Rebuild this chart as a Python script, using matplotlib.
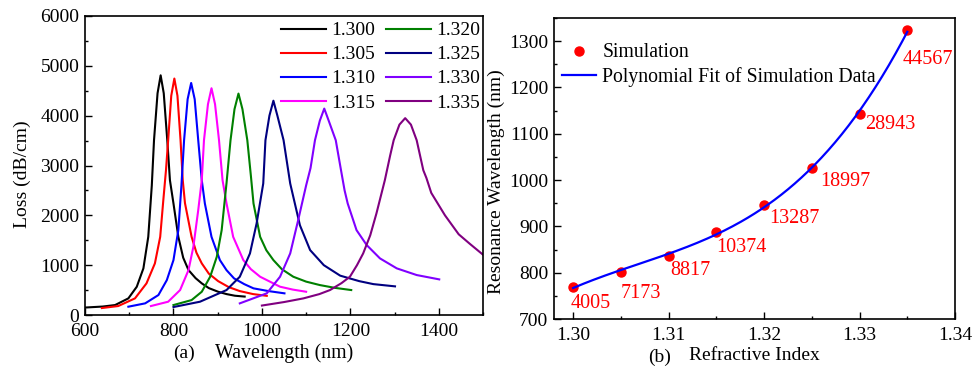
import numpy as np
import matplotlib
matplotlib.use('Agg')
import matplotlib.pyplot as plt
from matplotlib.ticker import MultipleLocator, FormatStrFormatter

plt.rcParams['font.family'] = ['Liberation Serif', 'DejaVu Serif']

# ---- (a) loss spectra, one curve per analyte refractive index ----
ri_labels = ['1.300', '1.305', '1.310', '1.315', '1.320', '1.325', '1.330', '1.335']
ri_colors = ['#000000', '#ff0000', '#0000ff', '#ff00ff', '#008000', '#000080', '#8000ff', '#800080']

wl_1300 = [600, 640, 668, 698, 717, 732, 743, 751, 756, 764, 771, 778, 786, 792, 800, 811, 822, 834, 850, 864, 880, 901, 920, 939, 961]
loss_1300 = [150, 170, 200, 334, 567, 936, 1569, 2600, 3507, 4450, 4810, 4450, 3507, 2705, 2238, 1569, 1150, 902, 740, 635, 540, 467, 420, 387, 370]

wl_1305 = [638, 675, 713, 739, 758, 770, 777, 783, 788, 795, 802, 809, 816, 821, 826, 841, 852, 864, 880, 901, 925, 950, 980, 1011]
loss_1305 = [140, 180, 334, 635, 1036, 1569, 2300, 2900, 3507, 4400, 4745, 4400, 3507, 2705, 2245, 1569, 1250, 1036, 830, 680, 560, 480, 420, 385]

wl_1310 = [698, 736, 766, 785, 800, 811, 818, 824, 832, 840, 848, 856, 864, 871, 886, 905, 920, 937, 960, 981, 1015, 1051]
loss_1310 = [167, 234, 401, 701, 1102, 1703, 2600, 3507, 4330, 4656, 4330, 3507, 2705, 2238, 1569, 1102, 900, 735, 620, 535, 480, 435]

wl_1315 = [749, 788, 815, 834, 845, 856, 864, 869, 878, 886, 894, 903, 911, 920, 935, 958, 975, 996, 1041, 1070, 1100]
loss_1315 = [180, 267, 501, 902, 1369, 2104, 2705, 3507, 4230, 4550, 4230, 3507, 2705, 2238, 1569, 1102, 920, 768, 568, 510, 467]

wl_1320 = [800, 841, 864, 883, 898, 909, 920, 929, 938, 947, 956, 967, 975, 981, 996, 1010, 1026, 1045, 1071, 1100, 1131, 1165, 1202]
loss_1320 = [200, 300, 467, 768, 1169, 1703, 2650, 3507, 4130, 4443, 4130, 3507, 2800, 2238, 1569, 1300, 1102, 920, 768, 670, 601, 545, 501]

wl_1325 = [800, 860, 920, 950, 973, 988, 1003, 1008, 1017, 1026, 1035, 1049, 1064, 1086, 1109, 1140, 1177, 1220, 1252, 1301]
loss_1325 = [160, 267, 501, 768, 1236, 1837, 2638, 3507, 4000, 4300, 4000, 3507, 2638, 1800, 1303, 1000, 790, 680, 620, 575]

wl_1330 = [950, 1011, 1041, 1064, 1082, 1100, 1110, 1120, 1131, 1141, 1151, 1167, 1178, 1187, 1194, 1214, 1237, 1267, 1305, 1350, 1401]
loss_1330 = [234, 435, 768, 1236, 1904, 2600, 2950, 3507, 3900, 4142, 3900, 3507, 2950, 2500, 2238, 1703, 1403, 1136, 936, 802, 715]

wl_1335 = [1000, 1050, 1094, 1130, 1154, 1180, 1199, 1215, 1229, 1245, 1259, 1278, 1290, 1298, 1311, 1324, 1337, 1350, 1365, 1372, 1383, 1414, 1445, 1470, 1500]
loss_1335 = [190, 260, 334, 420, 501, 640, 768, 1000, 1236, 1600, 2038, 2705, 3200, 3507, 3820, 3950, 3820, 3507, 2905, 2750, 2450, 2000, 1620, 1430, 1210]

wl_all = [wl_1300, wl_1305, wl_1310, wl_1315, wl_1320, wl_1325, wl_1330, wl_1335]
loss_all = [loss_1300, loss_1305, loss_1310, loss_1315, loss_1320, loss_1325, loss_1330, loss_1335]

# ---- (b) resonance wavelength vs refractive index ----
ri_values = [1.300, 1.305, 1.310, 1.315, 1.320, 1.325, 1.330, 1.335]
res_wl = [770, 801, 837, 888, 946, 1026, 1142, 1324]
sensitivity = ['4005', '7173', '8817', '10374', '13287', '18997', '28943', '44567']
# label offsets (points) from each dot
label_offsets = [(-2, -12), (0, -15), (1, -11), (0, -11.5), (3.5, -10), (6, -10), (4, -7), (-3, -21)]

fig = plt.figure(figsize=(9.74, 3.70), dpi=100)
ax1 = fig.add_axes([0.0873, 0.1486, 0.4086, 0.8082])
ax2 = fig.add_axes([0.5688, 0.1378, 0.4117, 0.8136])


def style_axes(ax):
    for sp in ax.spines.values():
        sp.set_linewidth(1.2)
    ax.tick_params(which='both', direction='in', top=False, right=False, width=1.0, labelsize=14)
    ax.tick_params(which='major', length=5)
    ax.tick_params(which='minor', length=2.5)
    ax.tick_params(axis='x', pad=6)
    ax.tick_params(axis='y', pad=4)


# left panel
for wl, loss, lab, col in zip(wl_all, loss_all, ri_labels, ri_colors):
    ax1.plot(wl, loss, color=col, linewidth=1.5, label=lab)
ax1.set_xlim(600, 1500)
ax1.set_ylim(0, 6000)
ax1.xaxis.set_major_locator(MultipleLocator(200))
ax1.xaxis.set_minor_locator(MultipleLocator(100))
ax1.yaxis.set_major_locator(MultipleLocator(1000))
ax1.yaxis.set_minor_locator(MultipleLocator(500))
style_axes(ax1)
ax1.set_xlabel('Wavelength (nm)', fontsize=14.3, labelpad=2)
ax1.set_ylabel('Loss (dB/cm)', fontsize=14)
ax1.yaxis.set_label_coords(-0.136, 0.47)
ax1.legend(ncol=2, loc='upper right', bbox_to_anchor=(1.008, 1.0), frameon=False,
           fontsize=14, handlelength=2.35, handletextpad=0.25, columnspacing=0.55,
           labelspacing=0.33, borderaxespad=0.15, borderpad=0.15)

# right panel
ax2.plot(ri_values, res_wl, 'o', color='#ff0000', markersize=6.5, label='Simulation', zorder=2)
coef = np.polyfit(ri_values, res_wl, 3)
ri_fit = np.linspace(ri_values[0], ri_values[-1], 200)
ax2.plot(ri_fit, np.polyval(coef, ri_fit), color='#0000ff', linewidth=1.6,
         label='Polynomial Fit of Simulation Data', zorder=3)
for x, y, txt, off in zip(ri_values, res_wl, sensitivity, label_offsets):
    ax2.annotate(txt, (x, y), xytext=off, textcoords='offset points',
                 ha='left', va='center', color='#ff0000', fontsize=14.5)
ax2.set_xlim(1.298, 1.34)
ax2.set_ylim(700, 1350)
ax2.xaxis.set_major_locator(MultipleLocator(0.01))
ax2.xaxis.set_minor_locator(MultipleLocator(0.005))
ax2.yaxis.set_major_locator(MultipleLocator(100))
ax2.yaxis.set_minor_locator(MultipleLocator(50))
ax2.xaxis.set_major_formatter(FormatStrFormatter('%.2f'))
style_axes(ax2)
ax2.set_xlabel('Refractive Index', fontsize=14, labelpad=2)
ax2.set_ylabel('Resonance Wavelength (nm)', fontsize=14)
ax2.yaxis.set_label_coords(-0.122, 0.455)
ax2.legend(loc='upper left', frameon=False, fontsize=14.2, handlelength=1.75,
           handletextpad=0.3, labelspacing=0.25, borderaxespad=0.3, borderpad=0.2,
           bbox_to_anchor=(-0.005, 0.948))

# panel tags
fig.text(0.189, 0.046, '(a)', fontsize=14, ha='center', va='center')
fig.text(0.677, 0.035, '(b)', fontsize=14, ha='center', va='center')

fig.savefig('out.png', dpi=100)
plt.close(fig)
